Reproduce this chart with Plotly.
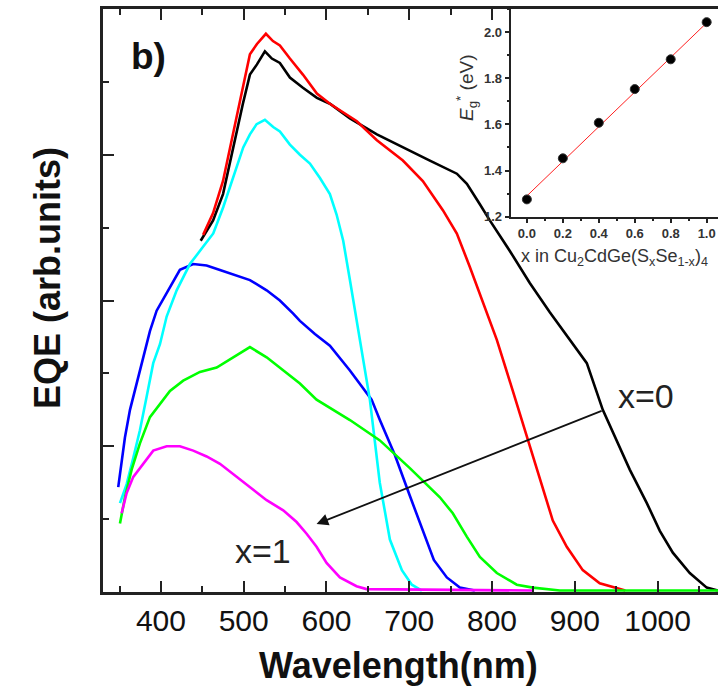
import plotly.graph_objects as go

# ---------------- data ----------------
black_wl = [448, 463, 475, 487, 499, 507.5, 516, 525.6, 534, 543.7, 555.8, 571.5, 588.4, 604.1, 628.3,
            660.9, 692.3, 724.9, 757.5, 769.6, 785.3, 797.3, 821.5, 845.6, 869.8, 894, 914.5, 933.8,
            950.7, 966.4, 987, 1002.7, 1018.4, 1038.9, 1059.4, 1073]
black_eqe = [2.41, 2.55, 2.73, 3.05, 3.35, 3.55, 3.62, 3.71, 3.66, 3.63, 3.53, 3.46, 3.39, 3.35, 3.25,
             3.14, 3.05, 2.96, 2.87, 2.80, 2.66, 2.55, 2.34, 2.12, 1.92, 1.73, 1.57, 1.25,
             1.04, 0.84, 0.61, 0.42, 0.27, 0.13, 0.03, 0.01]

red_wl = [451, 463, 475, 487, 499, 507.5, 516, 526.8, 535.3, 543.7, 555.8, 571.5, 588.4, 604.1, 636.7,
          660.9, 692.3, 716.4, 740.6, 757.5, 773.2, 805.8, 825.1, 843.2, 857.7, 873.4, 890.3, 909.6,
          930.1, 950.7, 961]
red_eqe = [2.45, 2.60, 2.82, 3.14, 3.46, 3.69, 3.76, 3.83, 3.78, 3.75, 3.66, 3.55, 3.42, 3.35, 3.23,
           3.10, 2.96, 2.82, 2.62, 2.46, 2.23, 1.73, 1.38, 1.04, 0.77, 0.49, 0.31, 0.15,
           0.06, 0.03, 0.01]

cyan_wl = [350.5, 358.6, 366.6, 374.6, 382.7, 390.7, 398.8, 406.9, 419, 435, 451.1, 463.2, 475.2, 487.3,
           499.4, 507.5, 515.6, 525.6, 535.6, 543.7, 555.8, 567.9, 580, 592.1, 604.1, 612.2, 620.2,
           628.3, 640.3, 652.4, 664.4, 676.6, 691.1, 703.1, 715.2]
cyan_eqe = [0.61, 0.74, 0.92, 1.11, 1.34, 1.57, 1.70, 1.89, 2.07, 2.25, 2.37, 2.46, 2.64, 2.84,
            3.05, 3.14, 3.21, 3.24, 3.19, 3.16, 3.07, 3.00, 2.94, 2.84, 2.73, 2.59, 2.41,
            2.14, 1.73, 1.32, 0.75, 0.36, 0.15, 0.05, 0.01]

blue_wl = [348.4, 352.5, 356.5, 362.6, 370.7, 378.6, 386.7, 394.8, 406.9, 422.9, 439, 455.2, 471.3,
           487.3, 507.5, 527.7, 543.7, 559.8, 567.9, 586, 604.1, 628.3, 654.5, 664.5, 682.6, 700.7,
           715.2, 729.7, 745.4, 761.1, 779.2]
blue_eqe = [0.72, 0.88, 1.06, 1.25, 1.43, 1.61, 1.79, 1.93, 2.05, 2.21, 2.25, 2.24, 2.21,
            2.18, 2.14, 2.07, 2.00, 1.91, 1.86, 1.77, 1.69, 1.52, 1.32, 1.18, 0.94, 0.66,
            0.44, 0.22, 0.10, 0.03, 0.01]

green_wl = [350.5, 356.5, 364.6, 374.6, 386.7, 398.8, 410.9, 426.9, 447.1, 467.3, 487.3, 507.5, 527.7,
            547.7, 567.9, 588, 628.3, 664.5, 700.7, 737, 752.6, 769.5, 785.3, 805.8, 829.9, 849.3,
            881.9, 1073]
green_eqe = [0.47, 0.65, 0.84, 1.02, 1.20, 1.29, 1.38, 1.45, 1.51, 1.54, 1.61, 1.68, 1.61,
             1.52, 1.43, 1.32, 1.18, 1.04, 0.85, 0.65, 0.54, 0.38, 0.24, 0.13, 0.05, 0.03,
             0.01, 0.01]

magenta_wl = [352.5, 358.6, 366.6, 378.6, 390.7, 406.9, 422.9, 439, 455.2, 471.3, 487.3, 507.5, 527.7,
              547.7, 563.9, 576, 588, 600.1, 616.2, 636.3, 648.4, 850]
magenta_eqe = [0.54, 0.68, 0.79, 0.88, 0.97, 1.00, 1.00, 0.97, 0.93, 0.88, 0.81, 0.72, 0.63,
               0.56, 0.48, 0.40, 0.31, 0.20, 0.10, 0.04, 0.02, 0.01]

# inset: band gap vs composition
inset_x = [0.0, 0.2, 0.4, 0.6, 0.8, 1.0]
inset_eg = [1.275, 1.453, 1.607, 1.753, 1.882, 2.043]
fit_x = [0.0, 1.0]
fit_eg = [1.29, 2.04]

x_ticks = [400, 500, 600, 700, 800, 900, 1000]
eg_ticks = [1.2, 1.4, 1.6, 1.8, 2.0]

FONT = "Liberation Sans, Arial, sans-serif"

series = [
    (black_wl, black_eqe, "#000000"),
    (red_wl, red_eqe, "#ff0000"),
    (blue_wl, blue_eqe, "#0000ff"),
    (cyan_wl, cyan_eqe, "#00ffff"),
    (green_wl, green_eqe, "#00ff00"),
    (magenta_wl, magenta_eqe, "#ff00ff"),
]

fig = go.Figure()
for wl, eqe, col in series:
    fig.add_trace(go.Scatter(x=wl, y=eqe, mode="lines", line=dict(color=col, width=2.6),
                             showlegend=False, xaxis="x", yaxis="y"))

fig.add_trace(go.Scatter(x=fit_x, y=fit_eg, mode="lines", line=dict(color="#ff2020", width=1),
                         showlegend=False, xaxis="x2", yaxis="y3"))
fig.add_trace(go.Scatter(x=inset_x, y=inset_eg, mode="markers",
                         marker=dict(color="#000000", size=9, line=dict(color="#333333", width=1)),
                         showlegend=False, xaxis="x2", yaxis="y3"))

# inset geometry
ix0 = (510.7 - 103) / 615
iy0 = (592 - 216.7) / 583

fig.update_layout(
    width=718, height=688,
    margin=dict(l=103, r=0, t=9, b=96),
    paper_bgcolor="white", plot_bgcolor="white",
    font=dict(family=FONT, color="#000000"),
    xaxis=dict(range=[330, 1073], tickmode="array", tickvals=x_ticks,
               ticktext=[str(v) for v in x_ticks],
               ticks="inside", ticklen=11, tickwidth=2, tickcolor="#222",
               minor=dict(ticks="inside", ticklen=6, tickwidth=2, dtick=50, tick0=0, tickcolor="#222"),
               showline=True, linewidth=2.5, linecolor="#222", mirror="ticks",
               showgrid=False, zeroline=False,
               tickfont=dict(size=30, family=FONT, color="#111"), domain=[0, 1]),
    yaxis=dict(range=[0, 4], tickmode="linear", tick0=0, dtick=1,
               ticks="inside", ticklen=11, tickwidth=2, tickcolor="#222",
               minor=dict(ticks="inside", ticklen=6, tickwidth=2, dtick=0.5, tick0=0, tickcolor="#222"),
               showline=True, linewidth=2.5, linecolor="#222", mirror=False,
               showgrid=False, zeroline=False, showticklabels=False, domain=[0, 1]),
    yaxis2=dict(range=[0, 4], overlaying="y", side="right", anchor="x",
                tickmode="linear", tick0=0, dtick=1,
                ticks="inside", ticklen=11, tickwidth=2, tickcolor="#222",
                minor=dict(ticks="inside", ticklen=6, tickwidth=2, dtick=0.5, tick0=0, tickcolor="#222"),
                showline=False, showgrid=False, zeroline=False, showticklabels=False),
    xaxis2=dict(domain=[ix0, 1.0], anchor="y3", range=[-0.09, 1.063],
                tickmode="array", tickvals=inset_x, ticktext=["<b>%.1f</b>" % v for v in inset_x],
                ticks="outside", ticklen=4, tickwidth=1.5, tickcolor="#222",
                minor=dict(ticks="outside", ticklen=2, dtick=0.1, tick0=0, tickcolor="#222"),
                showline=True, linewidth=2, linecolor="#222", mirror=False,
                showgrid=False, zeroline=False,
                tickfont=dict(size=13, family=FONT, color="#333")),
    yaxis3=dict(domain=[iy0, 1.0], anchor="x2", range=[1.2, 2.1],
                tickmode="array", tickvals=eg_ticks, ticktext=["<b>%.1f</b>" % v for v in eg_ticks],
                ticks="outside", ticklen=4, tickwidth=1.5, tickcolor="#222",
                minor=dict(ticks="outside", ticklen=2, dtick=0.1, tick0=1.2, tickcolor="#222"),
                showline=True, linewidth=2, linecolor="#222", mirror=False,
                showgrid=False, zeroline=False,
                tickfont=dict(size=13, family=FONT, color="#333")),
)


def px2paper_x(px):
    return (px - 103) / 615


def px2paper_y(py):
    return (592 - py) / 583


annotations = [
    # axis titles
    dict(text="<b>EQE (arb.units)</b>", x=px2paper_x(47), y=px2paper_y(278), xref="paper", yref="paper",
         textangle=-90, showarrow=False, font=dict(size=36, family=FONT, color="#111"),
         xanchor="center", yanchor="middle"),
    dict(text="<b>Wavelength(nm)</b>", x=px2paper_x(398), y=px2paper_y(665), xref="paper", yref="paper",
         showarrow=False, font=dict(size=36, family=FONT, color="#111"),
         xanchor="center", yanchor="middle"),
    # panel label
    dict(text="<b>b)</b>", x=px2paper_x(129), y=px2paper_y(57), xref="paper", yref="paper",
         showarrow=False, font=dict(size=37, family=FONT, color="#111"),
         xanchor="left", yanchor="middle"),
    # composition labels
    dict(text="x=0", x=px2paper_x(646), y=px2paper_y(396), xref="paper", yref="paper",
         showarrow=False, font=dict(size=34, family=FONT, color="#222"),
         xanchor="center", yanchor="middle"),
    dict(text="x=1", x=px2paper_x(263), y=px2paper_y(551), xref="paper", yref="paper",
         showarrow=False, font=dict(size=34, family=FONT, color="#222"),
         xanchor="center", yanchor="middle"),
    # arrow x=0 -> x=1
    dict(text="", x=588.0, y=0.466, ax=934.2, ay=1.247, xref="x", yref="y", axref="x", ayref="y",
         showarrow=True, arrowhead=2, arrowsize=1.3, arrowwidth=1.8, arrowcolor="#111"),
    # inset titles
    dict(text="<i>E</i><sub>g</sub><sup>*</sup> (eV)", x=px2paper_x(466), y=px2paper_y(88),
         xref="paper", yref="paper", textangle=-90, showarrow=False,
         font=dict(size=19, family=FONT, color="#333"), xanchor="center", yanchor="middle"),
    dict(text="x in Cu<sub>2</sub>CdGe(S<sub>x</sub>Se<sub>1-x</sub>)<sub>4</sub>",
         x=px2paper_x(519), y=px2paper_y(257), xref="paper", yref="paper", showarrow=False,
         font=dict(size=18, family=FONT, color="#333"), xanchor="left", yanchor="middle"),
]
fig.update_layout(annotations=annotations)

fig.write_html("out.html")
